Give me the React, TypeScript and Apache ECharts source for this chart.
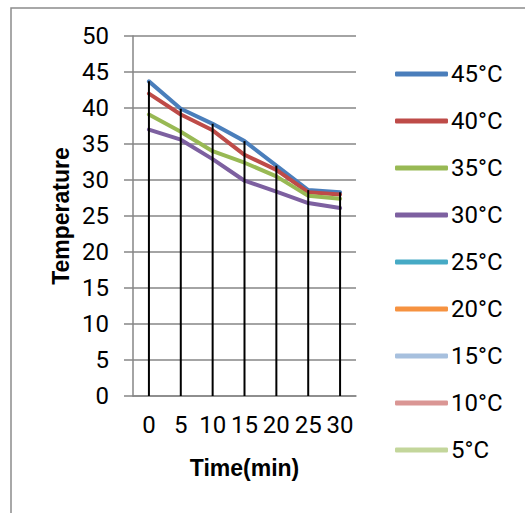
import React, { useEffect, useRef } from "react";
import * as echarts from "echarts";

const categories = ["0", "5", "10", "15", "20", "25", "30"];
const s45 = [43.7, 39.9, 37.8, 35.4, 32.0, 28.6, 28.3];
const s40 = [42.0, 39.1, 36.9, 33.5, 31.4, 28.3, 28.0];
const s35 = [39.1, 36.7, 34.0, 32.4, 30.5, 27.8, 27.4];
const s30 = [37.0, 35.6, 32.9, 29.9, 28.4, 26.8, 26.1];
const s25: number[] = [];
const s20: number[] = [];
const s15: number[] = [];
const s10: number[] = [];
const s5: number[] = [];
const seriesNames = ["45°C", "40°C", "35°C", "30°C", "25°C", "20°C", "15°C", "10°C", "5°C"];
const seriesData = [s45, s40, s35, s30, s25, s20, s15, s10, s5];
const seriesColors = ["#4A7EBB", "#BE4B48", "#98B954", "#7D60A0", "#46AAC5", "#F69240", "#A7C0DE", "#DA9694", "#C3D69B"];

const dropLineValues = categories.map((_, i) =>
  Math.max(...seriesData.filter((d) => d.length > i).map((d) => d[i]))
);

export default function App() {
  const ref = useRef<HTMLDivElement>(null);
  useEffect(() => {
    if (!ref.current) return;
    const chart = echarts.init(ref.current, undefined, { renderer: "svg" });
    const gray = "#868686";
    const font = "Roboto, 'Liberation Sans', sans-serif";
    const lineSeries = seriesNames.map((name, i) => ({
      name,
      type: "line",
      data: seriesData[i],
      showSymbol: false,
      symbol: "none",
      color: seriesColors[i],
      lineStyle: { width: 4, color: seriesColors[i], cap: "round", join: "round" },
      z: 2,
    }));
    chart.setOption({
      animation: false,
      textStyle: { fontFamily: font },
      graphic: [
        {
          type: "rect",
          shape: { x: 11, y: 8, width: 700, height: 700 },
          style: { fill: "none", stroke: "#8c8c8c", lineWidth: 1.5 },
          silent: true,
        },
      ],
      grid: { left: 133, right: 169, top: 36, bottom: 117, containLabel: false },
      legend: {
        orient: "vertical",
        left: 395,
        top: 62,
        padding: 0,
        icon: "roundRect",
        itemWidth: 53,
        itemHeight: 5,
        itemGap: 23,
        data: seriesNames,
        textStyle: { fontSize: 24, lineHeight: 23, color: "#000", fontFamily: font, padding: [0, 0, 0, -2] },
      },
      xAxis: {
        type: "category",
        data: categories,
        boundaryGap: true,
        name: "Time(min)",
        nameLocation: "middle",
        nameGap: 60,
        nameTextStyle: { fontSize: 23, fontWeight: "bold", color: "#000", fontFamily: "'Liberation Sans', Arial, sans-serif" },
        axisLine: { show: true, lineStyle: { color: gray, width: 1.5 } },
        axisTick: { show: false },
        axisLabel: { fontSize: 24, color: "#000", margin: 17, interval: 0 },
        splitLine: { show: false },
      },
      yAxis: {
        type: "value",
        min: 0,
        max: 50,
        interval: 5,
        name: "Temperature",
        nameLocation: "middle",
        nameGap: 61,
        nameRotate: 90,
        nameTextStyle: { fontSize: 23, fontWeight: "bold", color: "#000", fontFamily: "'Liberation Sans', Arial, sans-serif" },
        axisLine: { show: true, lineStyle: { color: gray, width: 1.5 } },
        axisTick: { show: true, length: 9, inside: false, lineStyle: { color: gray, width: 1.5 } },
        axisLabel: { fontSize: 24, color: "#000", margin: 24 },
        splitLine: { show: true, lineStyle: { color: gray, width: 1.5 } },
      },
      series: [
        ...lineSeries,
        {
          name: "dropLines",
          type: "bar",
          data: dropLineValues,
          barWidth: 2,
          itemStyle: { color: "#000" },
          z: 5,
          silent: true,
        },
      ],
    });
    return () => chart.dispose();
  }, []);
  return (
    <div
      ref={ref}
      style={{ position: "fixed", left: 0, top: 0, width: 525, height: 513, background: "#fff" }}
    />
  );
}
